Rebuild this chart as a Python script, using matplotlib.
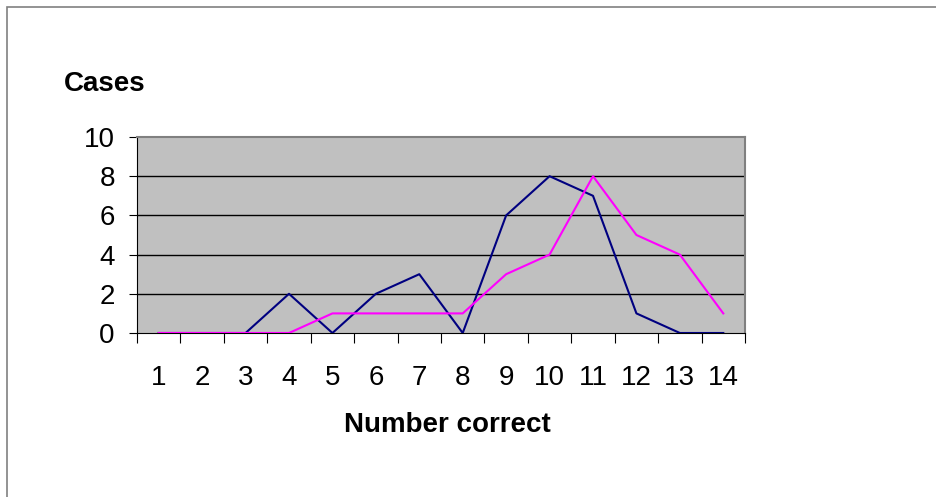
import matplotlib.pyplot as plt

plt.rcParams['font.family'] = ['Liberation Sans', 'DejaVu Sans']

# data
correct = [1, 2, 3, 4, 5, 6, 7, 8, 9, 10, 11, 12, 13, 14]
series_navy = [0, 0, 0, 2, 0, 2, 3, 0, 6, 8, 7, 1, 0, 0]
series_pink = [0, 0, 0, 0, 1, 1, 1, 1, 3, 4, 8, 5, 4, 1]
y_ticks = [0, 2, 4, 6, 8, 10]

fig = plt.figure(figsize=(9.36, 4.97), dpi=100)
# outer frame of the chart
fig.patches.append(plt.Rectangle((7 / 936, -0.01), 1.0, 1 - 7 / 497 + 0.01,
                                 transform=fig.transFigure, fill=False,
                                 edgecolor='#808080', linewidth=1.2))

ax = fig.add_axes([137 / 936, 1 - 333 / 497, (745 - 137) / 936, (333 - 137) / 497])
ax.set_facecolor('#C0C0C0')

ax.plot(correct, series_navy, color='#000080', linewidth=1.5, zorder=3)
ax.plot(correct, series_pink, color='#FF00FF', linewidth=1.5, zorder=4)

ax.set_xlim(0.5, 14.5)
ax.set_ylim(0, 10)
ax.set_yticks(y_ticks)
ax.set_xticks(correct)
ax.set_xticks([c - 0.5 for c in correct] + [14.5], minor=True)
ax.tick_params(axis='x', which='major', length=0, pad=23, labelsize=20)
ax.tick_params(axis='x', which='minor', length=7.5, width=0.8, direction='out')
ax.tick_params(axis='y', which='major', length=6, width=0.8, pad=10, labelsize=20)

for y in y_ticks[1:-1]:
    ax.axhline(y, color='black', linewidth=1, zorder=1)

ax.spines['top'].set_color('#808080')
ax.spines['right'].set_color('#808080')
ax.spines['top'].set_linewidth(1.5)
ax.spines['right'].set_linewidth(1.5)
ax.spines['left'].set_color('black')
ax.spines['bottom'].set_color('black')

fig.text(64 / 936, 1 - 84 / 497, 'Cases', fontsize=20, fontweight='bold',
         ha='left', va='center')
fig.text(447 / 936, 1 - 425 / 497, 'Number correct', fontsize=20,
         fontweight='bold', ha='center', va='center')

plt.savefig('out.png', dpi=100)
